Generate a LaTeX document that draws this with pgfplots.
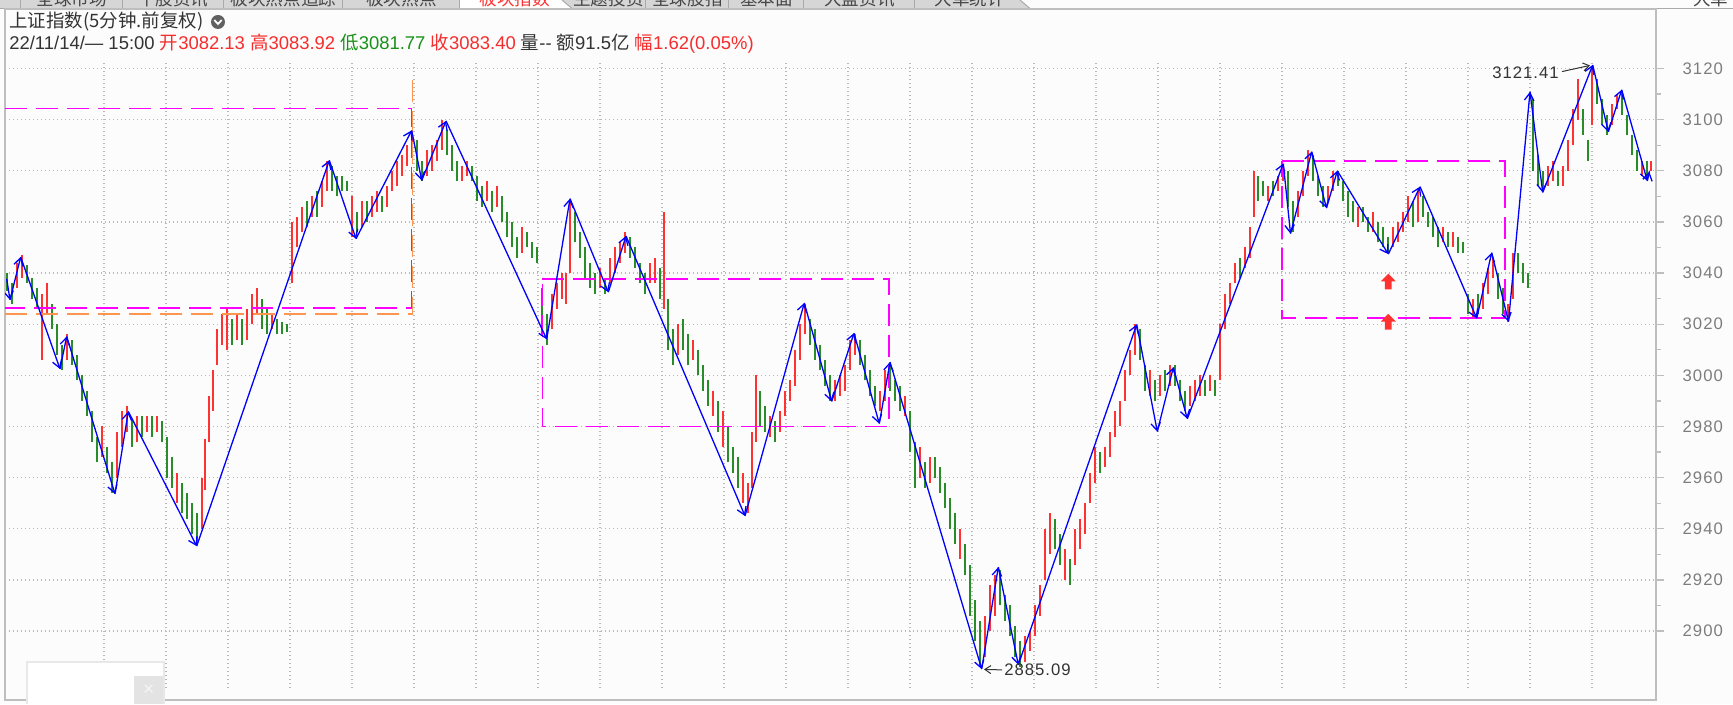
\documentclass[border=0pt]{standalone}
\usepackage{pgfplots}
\usepackage{pgfplotstable}
\pgfplotsset{compat=1.18}
\usepackage{fontspec}
\setmainfont{Liberation Sans}
\newfontfamily\cjk{Noto Sans CJK SC}
\newfontfamily\tickfont[LetterSpace=6]{Liberation Sans}
\usetikzlibrary{arrows.meta}

\definecolor{cred}{RGB}{255,50,50}
\definecolor{cgreen}{RGB}{40,140,40}
\definecolor{zz}{RGB}{0,0,255}
\definecolor{mag}{RGB}{255,0,255}
\definecolor{org}{RGB}{255,150,80}
\definecolor{gridc}{RGB}{185,185,185}
\definecolor{framec}{RGB}{190,190,190}
\definecolor{tickc}{RGB}{125,125,125}
\definecolor{bgc}{RGB}{252,252,252}
\definecolor{tabc}{RGB}{214,214,214}
\definecolor{tabline}{RGB}{170,170,170}
\definecolor{tabtext}{RGB}{70,70,70}
\definecolor{hdr}{RGB}{51,51,51}
\definecolor{hred}{RGB}{245,45,45}
\definecolor{hgreen}{RGB}{25,145,25}

\tikzset{gridline/.style={gridc, line width=0.25mm, dash pattern=on 0.25mm off 0.55mm}}

\pgfdeclareplotmark{uparrow}{%
  \pgfpathmoveto{\pgfpoint{-4.3pt}{0.2pt}}%
  \pgfpathlineto{\pgfpoint{0pt}{4.6pt}}%
  \pgfpathlineto{\pgfpoint{4.3pt}{0.2pt}}%
  \pgfpathlineto{\pgfpoint{1.9pt}{0.2pt}}%
  \pgfpathlineto{\pgfpoint{1.9pt}{-4.4pt}}%
  \pgfpathlineto{\pgfpoint{-1.9pt}{-4.4pt}}%
  \pgfpathlineto{\pgfpoint{-1.9pt}{0.2pt}}%
  \pgfpathclose
  \pgfusepathqfill}

\pgfplotstableread{
x lo hi
17 3034 3044
22 3038 3047
42 3006 3032
47 3024 3036
67 3006 3016
102 2968 2980
117 2960 2978
122 2972 2986
127 2978 2988
137 2974 2984
147 2978 2984
157 2978 2984
177 2950 2962
202 2940 2960
205 2955 2975
209 2974 2992
213 2986 3002
217 3004 3018
222 3012 3024
227 3010 3026
237 3014 3024
247 3014 3026
252 3020 3032
257 3024 3034
272 3018 3024
292 3036 3060
297 3050 3062
302 3056 3066
312 3062 3070
322 3066 3076
327 3072 3084
352 3054 3070
362 3058 3068
372 3062 3070
377 3064 3072
387 3066 3074
392 3072 3080
397 3074 3084
402 3078 3086
407 3082 3090
412 3086 3094
427 3078 3088
432 3080 3090
437 3084 3092
442 3088 3100
462 3076 3082
467 3078 3084
487 3068 3076
497 3066 3074
522 3048 3058
552 3018 3032
557 3026 3036
562 3030 3040
566 3028 3040
570 3040 3068
600 3034 3042
610 3036 3046
615 3040 3050
620 3044 3052
625 3048 3056
650 3036 3044
655 3036 3046
664 3026 3064
678 3008 3020
693 3006 3014
713 2984 2994
723 2972 2986
743 2950 2962
748 2946 2958
752 2956 2978
756 2974 3000
770 2976 2984
780 2978 2986
785 2984 2994
790 2990 2998
795 2996 3010
800 3006 3020
805 3016 3028
835 2990 2998
840 2992 3000
845 2994 3004
850 3002 3014
855 3008 3016
880 2986 2994
885 2990 3002
905 2984 2992
920 2960 2972
930 2958 2968
960 2928 2940
985 2890 2906
990 2900 2918
995 2906 2922
1025 2888 2898
1030 2892 2900
1035 2898 2910
1040 2906 2918
1045 2920 2940
1050 2930 2946
1065 2920 2932
1075 2926 2940
1080 2932 2944
1085 2938 2950
1090 2950 2962
1095 2958 2972
1105 2964 2972
1110 2968 2978
1115 2976 2986
1120 2980 2990
1125 2990 3002
1130 3000 3010
1135 3008 3020
1150 2992 3002
1160 2992 3000
1170 2996 3004
1190 2988 2996
1195 2990 2998
1200 2992 3000
1210 2994 3000
1220 2998 3020
1225 3018 3032
1230 3028 3036
1235 3036 3044
1245 3042 3050
1250 3046 3058
1254 3062 3080
1268 3068 3074
1278 3072 3078
1283 3076 3082
1298 3062 3072
1303 3070 3080
1308 3078 3088
1328 3068 3074
1333 3072 3080
1358 3058 3066
1373 3056 3064
1393 3050 3058
1398 3052 3060
1403 3056 3064
1408 3060 3070
1418 3060 3072
1443 3052 3058
1453 3050 3056
1473 3022 3030
1483 3026 3036
1488 3032 3042
1493 3038 3046
1508 3021 3028
1513 3030 3048
1548 3074 3082
1553 3076 3084
1563 3074 3082
1568 3080 3092
1573 3090 3104
1578 3100 3116
1592 3098 3121
1612 3098 3106
1617 3104 3110
1642 3078 3084
1651 3080 3084
}\redbars

\pgfplotstableread{
x lo hi
7 3033 3040
12 3028 3036
27 3036 3043
32 3030 3038
37 3026 3034
52 3018 3028
57 3008 3020
62 3002 3012
72 3004 3014
77 2998 3008
82 2990 3000
87 2984 2994
92 2974 2986
97 2966 2976
107 2962 2972
112 2954 2966
132 2972 2982
142 2976 2984
152 2976 2984
162 2974 2982
167 2960 2976
172 2956 2968
182 2946 2958
187 2944 2954
192 2938 2950
197 2934 2946
232 3012 3022
242 3012 3022
262 3018 3030
267 3016 3026
277 3016 3022
282 3016 3021
287 3017 3020
307 3058 3068
317 3062 3072
332 3072 3082
337 3070 3078
342 3072 3078
347 3072 3076
357 3056 3064
367 3060 3068
382 3064 3070
417 3080 3092
422 3076 3084
447 3086 3096
452 3080 3090
457 3076 3084
472 3076 3082
477 3068 3078
482 3066 3074
492 3064 3072
502 3060 3070
507 3054 3064
512 3050 3060
517 3046 3054
527 3050 3056
532 3046 3052
537 3044 3050
542 3016 3034
547 3012 3024
575 3052 3064
580 3046 3056
585 3038 3050
590 3034 3044
595 3032 3040
605 3032 3038
630 3046 3054
635 3042 3050
640 3036 3044
645 3032 3040
660 3030 3042
668 3010 3030
673 3004 3018
683 3010 3022
688 3004 3016
698 3000 3010
703 2994 3004
708 2988 2998
718 2978 2990
728 2966 2980
733 2962 2972
738 2956 2968
760 2980 2994
765 2978 2988
775 2974 2982
810 3012 3022
815 3006 3018
820 3002 3012
825 2996 3006
830 2990 3000
860 3004 3014
865 2998 3008
870 2992 3002
875 2988 2996
890 2994 3004
895 2990 2998
900 2986 2996
910 2970 2986
915 2956 2974
925 2956 2966
935 2960 2968
940 2954 2964
945 2948 2958
950 2940 2952
955 2934 2946
965 2922 2934
970 2906 2926
975 2896 2912
980 2886 2904
1000 2910 2924
1005 2904 2914
1010 2898 2910
1015 2890 2902
1020 2886 2896
1055 2932 2944
1060 2926 2938
1070 2918 2928
1100 2962 2970
1140 3006 3018
1145 2994 3004
1155 2990 2998
1165 2994 3002
1175 2996 3004
1180 2990 2998
1185 2986 2994
1205 2992 2998
1215 2992 2998
1240 3038 3046
1258 3068 3078
1263 3070 3076
1273 3070 3076
1288 3066 3080
1293 3056 3068
1313 3076 3086
1318 3070 3078
1323 3066 3074
1338 3074 3080
1343 3068 3076
1348 3062 3072
1353 3060 3068
1363 3060 3066
1368 3056 3062
1378 3052 3060
1383 3050 3058
1388 3048 3054
1413 3058 3068
1423 3062 3070
1428 3058 3064
1433 3054 3062
1438 3050 3058
1448 3050 3056
1458 3048 3054
1463 3048 3052
1468 3024 3032
1478 3024 3032
1498 3030 3040
1503 3024 3034
1518 3040 3048
1523 3036 3044
1528 3034 3040
1533 3080 3108
1538 3074 3086
1543 3072 3080
1558 3074 3080
1583 3094 3104
1588 3084 3092
1597 3106 3116
1602 3098 3108
1607 3094 3102
1622 3102 3110
1627 3094 3102
1632 3086 3094
1637 3080 3088
1647 3078 3084
}\greenbars

\pgfplotstableread{
x y xe ye
6.7 3037.7 10 3029.5
10 3029.5 20.7 3046.3
20.7 3046.3 60 3002.5
60 3002.5 66.7 3015.2
66.7 3015.2 115 2953.6
115 2953.6 128.3 2985.9
128.3 2985.9 196.7 2933.2
196.7 2933.2 329.3 3084.1
329.3 3084.1 356 3053.4
356 3053.4 411.7 3095.8
411.7 3095.8 421.7 3076.2
421.7 3076.2 446 3099.5
446 3099.5 546.7 3014.1
546.7 3014.1 570 3069.1
570 3069.1 608.3 3032.5
608.3 3032.5 626 3054.5
626 3054.5 745 2945
745 2945 804.3 3028.3
804.3 3028.3 831.7 2989.8
831.7 2989.8 854 3016.5
854 3016.5 879.3 2981.1
879.3 2981.1 890 3005.2
890 3005.2 981.7 2885.1
981.7 2885.1 998.3 2925
998.3 2925 1018.3 2886.8
1018.3 2886.8 1136.7 3019.9
1136.7 3019.9 1157.3 2978
1157.3 2978 1173.3 3003.1
1173.3 3003.1 1187.3 2983
1187.3 2983 1283.3 3082.8
1283.3 3082.8 1290.5 3055.4
1290.5 3055.4 1311.7 3087.5
1311.7 3087.5 1326.5 3065.4
1326.5 3065.4 1337.3 3080
1337.3 3080 1388.3 3047.4
1388.3 3047.4 1420 3073.8
1420 3073.8 1476.7 3022.3
1476.7 3022.3 1491.7 3048
1491.7 3048 1508.5 3021
1508.5 3021 1530 3110.9
1530 3110.9 1542.7 3071.5
1542.7 3071.5 1592.7 3121.4
1592.7 3121.4 1608.3 3095.2
1608.3 3095.2 1621.7 3111.7
1621.7 3111.7 1647.3 3076
1647.3 3076 1649.3 3079.6
}\zigzag

\begin{document}
\begin{tikzpicture}
\useasboundingbox (-1mm,-0.8mm) rectangle (345.6mm,140mm);
% ---------- background, tab bar, header ----------
\begin{scope}[x=0.2mm,y=-0.2mm,shift={(-1mm,140mm)}]
  \fill[bgc] (0,0) rectangle (1733,704);
  \fill[tabc] (0,0) -- (1020,0) -- (1030,8.5) -- (0,8.5) -- cycle;
  \fill[white] (460,0) -- (562,0) -- (572,8.5) -- (460,8.5) -- cycle;
  \foreach \xx in {20.7,122.7,224,343,460,646,729,804,915}
    \draw[tabline, line width=0.2mm] (\xx,0) -- (\xx,8.5);
  \draw[tabline, line width=0.2mm] (562,0) -- (572,8.5);
  \draw[tabline, line width=0.2mm] (1020,0) -- (1030,8.5);
  \begin{scope}
    \clip (0,0) rectangle (1733,8.3);
    \begin{scope}[every node/.style={font=\cjk\fontsize{10}{11}\selectfont, text=tabtext}]
      \node at (71.7,-1.5) {全球市场};
      \node at (173.3,-1.5) {个股资讯};
      \node at (283.5,-1.5) {板块热点追踪};
      \node at (401.5,-1.5) {板块热点};
      \node[text=cred] at (515,-1.5) {板块指数};
      \node at (608.5,-1.5) {主题投资};
      \node at (687.5,-1.5) {全球股指};
      \node at (766.5,-1.5) {基本面};
      \node at (859.5,-1.5) {大盘资讯};
      \node at (970,-1.5) {大单统计};
      \node at (1711,-1.5) {大单};
    \end{scope}
  \end{scope}
  \draw[tabline, line width=0.2mm] (0,8.6) -- (1733,8.6);
  % header
  \node[anchor=west, inner sep=0pt, text=hdr, font=\cjk\fontsize{10.5}{12}\selectfont] at (9,22) {上证指数(5分钟.前复权)};
  \fill[black!62] (218,22) circle[radius=1.4mm];
  \draw[white, line width=0.35mm] (214.3,20) -- (218,24) -- (221.7,20);
  \node[anchor=west, inner sep=0pt, text=hdr, font=\fontsize{10.5}{12}\selectfont] at (9,44)
    {22/11/14/— 15:00 \textcolor{hred}{{\cjk 开}3082.13 {\cjk 高}3083.92} \textcolor{hgreen}{{\cjk 低}3081.77} \textcolor{hred}{{\cjk 收}3083.40} {\cjk 量}-{}- {\cjk 额}91.5{\cjk 亿} \textcolor{hred}{{\cjk 幅}1.62(0.05\%)}};
\end{scope}

% ---------- main chart ----------
\begin{axis}[
  at={(0,0)}, anchor=south west,
  scale only axis, width=330.2mm, height=138.2mm,
  xmin=5, xmax=1656, ymin=2873.03, ymax=3143.27,
  axis line style={framec, line width=0.3mm},
  xtick=\empty,
  ytick={2900,2920,...,3120},
  minor ytick={2910,2930,...,3110},
  ytick pos=right, yticklabel pos=right,
  tick align=outside,
  major tick length=1.6mm, minor tick length=1mm,
  tick style={framec, line width=0.25mm},
  ymajorgrids,
  major grid style={gridc, line width=0.25mm, dash pattern=on 0.25mm off 0.55mm},
  yticklabel style={font=\tickfont\fontsize{9.5}{10}\selectfont, text=tickc, anchor=west, xshift=2.5mm},
  /pgf/number format/assume math mode=true,
  /pgf/number format/1000 sep={},
  scaled y ticks=false,
]
  \pgfplotsinvokeforeach{104,166,228,290,352,414,476,538,600,662,724,786,848,910,972,1034,1096,1158,1220,1282,1344,1406,1468,1530,1592}{
    \draw[gridline] (axis cs:#1,2877.7) -- (axis cs:#1,3122.9);
  }
  % candles
  \addplot[cred, line width=0.55mm, quiver={u=0, v={\thisrow{hi}-\thisrow{lo}}}] table[x=x, y=lo] {\redbars};
  \addplot[cgreen, line width=0.55mm, quiver={u=0, v={\thisrow{hi}-\thisrow{lo}}}] table[x=x, y=lo] {\greenbars};
  % boxes
  \addplot[org, line width=0.3mm, dash pattern=on 4.4mm off 1.8mm] coordinates {(5,3024) (412.6,3024) (412.6,3118.6)};
  \addplot[mag, line width=0.3mm, dash pattern=on 4.4mm off 1.8mm] coordinates {(5,3104.4) (411.4,3104.4) (411.4,3026.4) (5,3026.4)};
  \addplot[mag, line width=0.3mm, dash pattern=on 4.4mm off 1.8mm] coordinates {(542.3,3037.7) (889,3037.7) (889,2980) (542.3,2980) (542.3,3037.7)};
  \addplot[mag, line width=0.3mm, dash pattern=on 4.4mm off 1.8mm] coordinates {(1282,3083.9) (1505,3083.9) (1505,3022.5) (1282,3022.5) (1282,3083.9)};
  % zigzag
  \addplot[zz, line width=0.26mm, quiver={u={\thisrow{xe}-\thisrow{x}}, v={\thisrow{ye}-\thisrow{y}},
      every arrow/.append style={-{Straight Barb[length=1.5mm,width=1.9mm]}}}] table[x=x, y=y] {\zigzag};
  % red arrows
  \addplot[cred, only marks, mark=uparrow] coordinates {(1388.3,3036.6) (1388.3,3020.9)};
  % extreme labels
  \draw[hdr, line width=0.2mm, -{Straight Barb[length=1.2mm,width=1.6mm]}] (axis cs:1002,2884.8) -- (axis cs:984,2885);
  \node[anchor=west, inner sep=0pt, text=hdr, font=\tickfont\fontsize{9.5}{10}\selectfont] at (axis cs:1004,2884.8) {2885.09};
  \node[anchor=east, inner sep=0pt, text=hdr, font=\tickfont\fontsize{9.5}{10}\selectfont] at (axis cs:1559,3118.3) {3121.41};
  \draw[hdr, line width=0.2mm, -{Straight Barb[length=1.2mm,width=1.6mm]}] (axis cs:1562,3118.8) -- (axis cs:1590,3121.2);
\end{axis}

% ---------- popup box ----------
\begin{scope}[x=0.2mm,y=-0.2mm,shift={(-1mm,140mm)}]
  \fill[black!9] (25.5,661) rectangle (165.5,704);
  \fill[white] (27.6,663) rectangle (163.5,704);
  \fill[black!11] (134,676) rectangle (163.5,704);
  \node[text=black!4, font=\fontsize{11}{11}\selectfont] at (148.7,690) {×};
\end{scope}
\end{tikzpicture}
\end{document}
